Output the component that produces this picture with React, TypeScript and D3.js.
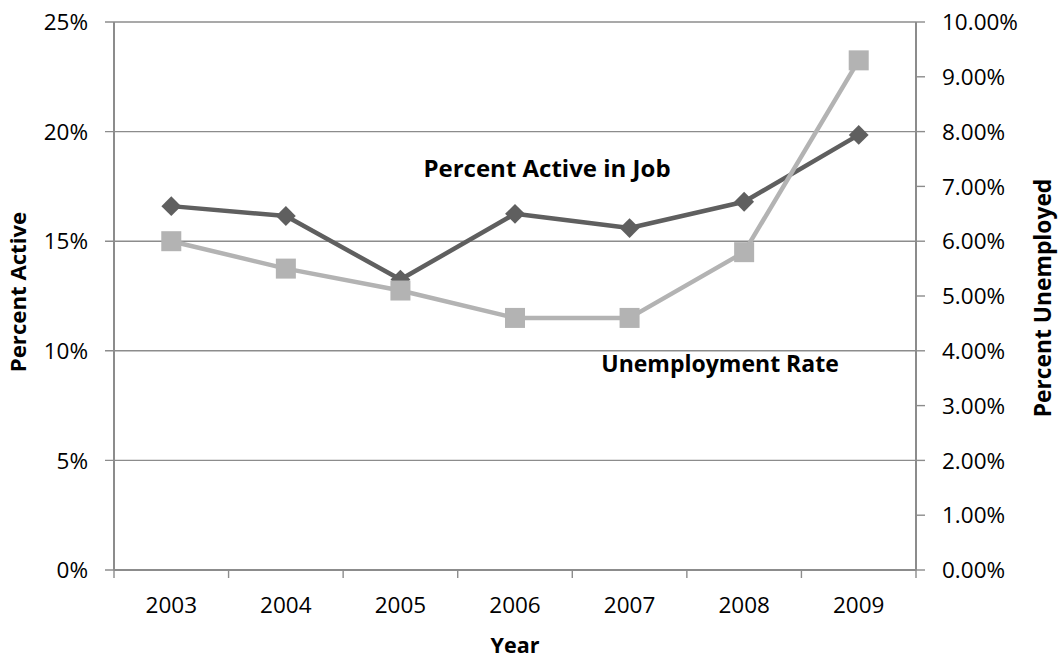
import React, { useEffect } from "react";
import * as d3 from "d3";

const years = ["2003", "2004", "2005", "2006", "2007", "2008", "2009"];
const percentActive = [16.6, 16.15, 13.25, 16.25, 15.6, 16.8, 19.85];
const unemploymentRate = [6.0, 5.5, 5.1, 4.6, 4.6, 5.8, 9.3];
const leftTicks = [0, 5, 10, 15, 20, 25];
const rightTicks = [0, 1, 2, 3, 4, 5, 6, 7, 8, 9, 10];

const W = 1062;
const H = 658;
const M = { left: 114, right: 916, top: 22, bottom: 570 };
const FONT = "'Open Sans', sans-serif";
const AXIS = "#8c8c8c";
const DARK = "#5f5f5f";
const LIGHT = "#b3b3b3";

export default function App() {
  useEffect(() => {
    document.body.style.margin = "0";
  }, []);

  const x = d3.scaleBand<string>().domain(years).range([M.left, M.right]);
  const yL = d3.scaleLinear().domain([0, 25]).range([M.bottom, M.top]);
  const yR = d3.scaleLinear().domain([0, 10]).range([M.bottom, M.top]);
  const cx = (d: string) => (x(d) as number) + x.bandwidth() / 2;

  const lineA = d3
    .line<number>()
    .x((_, i) => cx(years[i]))
    .y((d) => yL(d));
  const lineU = d3
    .line<number>()
    .x((_, i) => cx(years[i]))
    .y((d) => yR(d));

  const boundaries = years.map((d) => x(d) as number).concat([M.right]);

  return (
    <svg width={W} height={H} style={{ display: "block" }} fontFamily={FONT}>
      <rect width={W} height={H} fill="#fff" />
      {/* gridlines */}
      {leftTicks.map((t) => (
        <line
          key={"g" + t}
          x1={M.left - 9}
          x2={M.right}
          y1={yL(t)}
          y2={yL(t)}
          stroke={AXIS}
          strokeWidth={1.4}
        />
      ))}
      {/* left axis */}
      <line x1={M.left} x2={M.left} y1={M.top} y2={M.bottom} stroke={AXIS} strokeWidth={2} />
      {leftTicks.map((t) => (
        <text
          key={"lt" + t}
          x={88}
          y={yL(t)}
          dy="0.36em"
          textAnchor="end"
          fontSize={22.5}
          fill="#000"
        >
          {t + "%"}
        </text>
      ))}
      {/* right axis */}
      <line x1={M.right} x2={M.right} y1={M.top} y2={M.bottom} stroke={AXIS} strokeWidth={2} />
      {rightTicks.map((t) => (
        <g key={"rt" + t}>
          <line x1={M.right} x2={M.right + 9} y1={yR(t)} y2={yR(t)} stroke={AXIS} strokeWidth={1.4} />
          <text x={942} y={yR(t)} dy="0.36em" textAnchor="start" fontSize={22.5} fill="#000">
            {t.toFixed(2) + "%"}
          </text>
        </g>
      ))}
      {/* bottom axis */}
      <line x1={M.left} x2={M.right} y1={M.bottom} y2={M.bottom} stroke={AXIS} strokeWidth={2} />
      {boundaries.map((b, i) => (
        <line key={"bt" + i} x1={b} x2={b} y1={M.bottom} y2={M.bottom + 8} stroke={AXIS} strokeWidth={1.4} />
      ))}
      {years.map((d) => (
        <text key={"x" + d} x={cx(d)} y={613} textAnchor="middle" fontSize={22.5} fill="#000">
          {d}
        </text>
      ))}
      {/* axis titles */}
      <text x={515} y={653} textAnchor="middle" fontSize={21.5} fontWeight="bold" fill="#000">
        Year
      </text>
      <text
        transform={`translate(26,292) rotate(-90)`}
        textAnchor="middle"
        fontSize={22.2}
        fontWeight="bold"
        fill="#000"
      >
        Percent Active
      </text>
      <text
        transform={`translate(1051,298) rotate(-90)`}
        textAnchor="middle"
        fontSize={22.8}
        fontWeight="bold"
        fill="#000"
      >
        Percent Unemployed
      </text>
      {/* series: percent active */}
      <path d={lineA(percentActive) || ""} fill="none" stroke={DARK} strokeWidth={4.5} strokeLinejoin="round" />
      {percentActive.map((v, i) => (
        <rect
          key={"d" + i}
          x={cx(years[i]) - 7}
          y={yL(v) - 7}
          width={14}
          height={14}
          fill={DARK}
          transform={`rotate(45 ${cx(years[i])} ${yL(v)})`}
        />
      ))}
      {/* series: unemployment */}
      <path d={lineU(unemploymentRate) || ""} fill="none" stroke={LIGHT} strokeWidth={4.5} strokeLinejoin="round" />
      {unemploymentRate.map((v, i) => (
        <rect key={"s" + i} x={cx(years[i]) - 10} y={yR(v) - 10} width={20} height={20} fill={LIGHT} />
      ))}
      {/* series labels */}
      <text x={547} y={177} textAnchor="middle" fontSize={24} fontWeight="bold" fill="#000">
        Percent Active in Job
      </text>
      <text x={720} y={372} textAnchor="middle" fontSize={23} fontWeight="bold" fill="#000">
        Unemployment Rate
      </text>
    </svg>
  );
}
